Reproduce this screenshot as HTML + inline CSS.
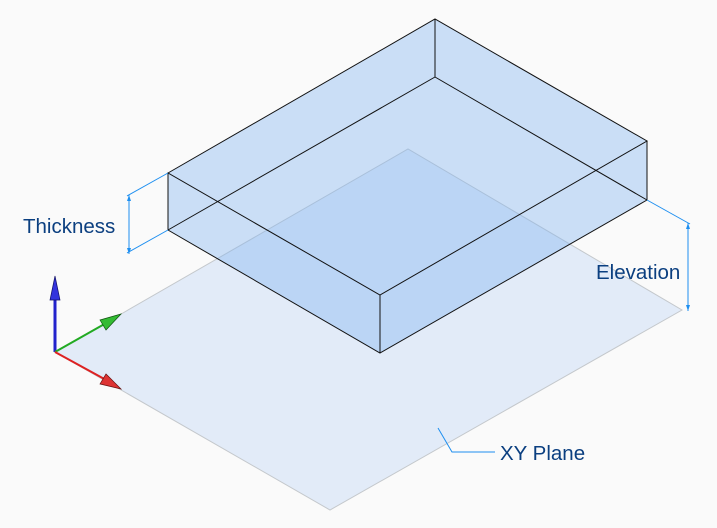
<!DOCTYPE html>
<html><head><style>body{margin:0;background:#fafafa}svg{display:block}</style></head>
<body>
<svg width="717" height="528" viewBox="0 0 717 528" xmlns="http://www.w3.org/2000/svg">
<rect width="717" height="528" fill="#fafafa"/>
<polygon points="55,352 408,149 682,310 330,510" fill="#e2ebf8" stroke="#c4c8cc" stroke-width="1"/>
<polygon points="168,173 435,19 647,141 647,200 380,353 168,230" fill="rgba(130,180,240,0.4)"/>
<g stroke="#111" stroke-width="1" fill="none">
<polyline points="168,173 435,19 647,141 380,295 168,173 168,230 380,353 647,200 647,141"/>
<line x1="380" y1="295" x2="380" y2="353"/>
<line x1="435" y1="19" x2="435" y2="77"/>
<line x1="435" y1="77" x2="168" y2="230"/>
<line x1="435" y1="77" x2="647" y2="200"/>
</g>
<g stroke="#1e8ff0" stroke-width="1" fill="none">
<line x1="168" y1="173" x2="127" y2="196"/>
<line x1="168" y1="230" x2="127" y2="253"/>
<line x1="129" y1="195" x2="129" y2="254"/>
<line x1="647" y1="200" x2="690" y2="224"/>
<line x1="688" y1="223" x2="688" y2="311"/>
<polyline points="438,428 452,452 495,452"/>
</g>
<g fill="#1e8ff0"><polygon points="129,195 127,201 131,201"/><polygon points="129,254 127,248 131,248"/><polygon points="688,223 686,229 690,229"/><polygon points="688,311 686,305 690,305"/></g>
<g>
<line x1="55" y1="352" x2="55" y2="290" stroke="#2222cc" stroke-width="3"/>
<polygon points="55,276 50,300 60,300" fill="#3333dd" stroke="#111066" stroke-width="0.7"/>
<line x1="55" y1="352" x2="108" y2="322" stroke="#22aa22" stroke-width="2"/>
<polygon points="121,314 100,320 106,330" fill="#33bb33" stroke="#115511" stroke-width="0.7"/>
<line x1="55" y1="352" x2="108" y2="381" stroke="#dd2222" stroke-width="2"/>
<polygon points="121,389 100,384 106,374" fill="#dd3333" stroke="#661111" stroke-width="0.7"/>
</g>
<g font-family="Liberation Sans, sans-serif" font-size="20.5" fill="#0b3f80">
<text x="23" y="233">Thickness</text>
<text x="596" y="279">Elevation</text>
<text x="500" y="460">XY Plane</text>
</g>
</svg>
</body></html>
